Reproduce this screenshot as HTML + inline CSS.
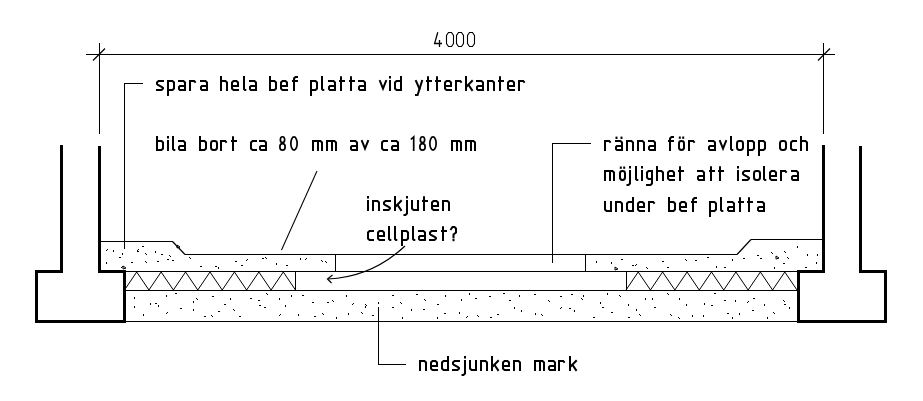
<!DOCTYPE html>
<html><head><meta charset="utf-8"><style>
html,body{margin:0;padding:0;background:#fff;width:923px;height:401px;overflow:hidden}
svg{display:block}
text{font-family:"Liberation Sans",sans-serif;fill:#000}
</style></head><body>
<svg width="923" height="401" viewBox="0 0 923 401">
<g stroke="#000" fill="#000">
<line x1="86" y1="54.5" x2="835" y2="54.5" stroke-width="1" shape-rendering="crispEdges"/>
<line x1="99.5" y1="43" x2="99.5" y2="134" stroke-width="1" shape-rendering="crispEdges"/>
<line x1="823.5" y1="43" x2="823.5" y2="134" stroke-width="1" shape-rendering="crispEdges"/>
<line x1="93" y1="60.5" x2="105" y2="48.5" stroke-width="1.25"/>
<line x1="818" y1="60.5" x2="830" y2="48.5" stroke-width="1.25"/>
<polyline points="61.5,145 61.5,271.5 36.5,271.5 36.5,321.5 124.5,321.5 124.5,271.5 99.5,271.5 99.5,146" fill="none" stroke-width="3" stroke-linejoin="miter" shape-rendering="crispEdges"/>
<polyline points="823.5,145 823.5,271.5 798.5,271.5 798.5,321.5 885.5,321.5 885.5,271.5 860.5,271.5 860.5,146" fill="none" stroke-width="3" stroke-linejoin="miter" shape-rendering="crispEdges"/>
<line x1="100" y1="241.5" x2="173" y2="241.5" stroke-width="1" shape-rendering="crispEdges"/>
<line x1="172.5" y1="241.5" x2="185" y2="254.5" stroke-width="1.2"/>
<line x1="185" y1="254.5" x2="737" y2="254.5" stroke-width="1" shape-rendering="crispEdges"/>
<line x1="737" y1="254.5" x2="751" y2="239.5" stroke-width="1.2"/>
<line x1="751" y1="239.5" x2="823" y2="239.5" stroke-width="1" shape-rendering="crispEdges"/>
<line x1="125" y1="271.5" x2="798" y2="271.5" stroke-width="1" shape-rendering="crispEdges"/>
<line x1="335.5" y1="254" x2="335.5" y2="271" stroke-width="1" shape-rendering="crispEdges"/>
<line x1="585.5" y1="254" x2="585.5" y2="271" stroke-width="1" shape-rendering="crispEdges"/>
<line x1="125" y1="290.5" x2="798" y2="290.5" stroke-width="1" shape-rendering="crispEdges"/>
<line x1="295.5" y1="271" x2="295.5" y2="291" stroke-width="1" shape-rendering="crispEdges"/>
<line x1="626.5" y1="271" x2="626.5" y2="291" stroke-width="1" shape-rendering="crispEdges"/>
<line x1="125" y1="321.5" x2="798" y2="321.5" stroke-width="1" shape-rendering="crispEdges"/>
<polyline points="124.50,290 136.71,272 148.93,290 161.14,272 173.36,290 185.57,272 197.79,290 210.00,272 222.21,290 234.43,272 246.64,290 258.86,272 271.07,290 283.29,272 295.50,290" fill="none" stroke-width="1.0"/>
<polyline points="626.00,290 638.21,272 650.43,290 662.64,272 674.86,290 687.07,272 699.29,290 711.50,272 723.71,290 735.93,272 748.14,290 760.36,272 772.57,290 784.79,272 797.00,290" fill="none" stroke-width="1.0"/>
<line x1="124" y1="83.5" x2="143" y2="83.5" stroke-width="1" shape-rendering="crispEdges"/>
<line x1="124.5" y1="83" x2="124.5" y2="249" stroke-width="1" shape-rendering="crispEdges"/>
<line x1="317" y1="171" x2="281.5" y2="250" stroke-width="1.05"/>
<line x1="552" y1="143.5" x2="591" y2="143.5" stroke-width="1" shape-rendering="crispEdges"/>
<line x1="552.5" y1="143" x2="552.5" y2="263" stroke-width="1" shape-rendering="crispEdges"/>
<line x1="378.5" y1="307" x2="378.5" y2="365" stroke-width="1" shape-rendering="crispEdges"/>
<line x1="378" y1="364.5" x2="406" y2="364.5" stroke-width="1" shape-rendering="crispEdges"/>
<path d="M405,246 Q372,277 328,279" fill="none" stroke-width="1.2"/>
<path d="M332.5,275 L327.5,279 L331.5,283" fill="none" stroke-width="1.2"/>
<g stroke="none" shape-rendering="crispEdges"><rect x="106" y="250" width="1" height="1"/><rect x="107" y="249" width="1" height="1"/><rect x="106" y="262" width="1" height="2"/><rect x="113" y="250" width="1" height="2"/><rect x="119" y="257" width="2" height="1"/><rect x="122" y="253" width="1" height="2"/><rect x="121" y="267" width="1" height="1"/><rect x="122" y="266" width="1" height="1"/><rect x="137" y="251" width="2" height="1"/><rect x="131" y="262" width="2" height="1"/><rect x="142" y="246" width="2" height="1"/><rect x="145" y="261" width="1" height="1"/><rect x="146" y="262" width="1" height="1"/><rect x="155" y="251" width="1" height="2"/><rect x="157" y="261" width="2" height="1"/><rect x="169" y="255" width="1" height="1"/><rect x="170" y="256" width="1" height="1"/><rect x="167" y="259" width="2" height="1"/><rect x="189" y="257" width="1" height="1"/><rect x="190" y="258" width="1" height="1"/><rect x="200" y="266" width="2" height="1"/><rect x="215" y="266" width="2" height="1"/><rect x="218" y="267" width="1" height="2"/><rect x="235" y="261" width="2" height="1"/><rect x="241" y="265" width="2" height="1"/><rect x="246" y="260" width="1" height="1"/><rect x="247" y="259" width="1" height="1"/><rect x="262" y="258" width="2" height="1"/><rect x="265" y="257" width="1" height="1"/><rect x="266" y="258" width="1" height="1"/><rect x="276" y="263" width="1" height="2"/><rect x="286" y="265" width="2" height="1"/><rect x="300" y="258" width="1" height="2"/><rect x="305" y="259" width="1" height="1"/><rect x="306" y="258" width="1" height="1"/><rect x="321" y="260" width="1" height="1"/><rect x="322" y="261" width="1" height="1"/><rect x="325" y="261" width="1" height="1"/><rect x="326" y="262" width="1" height="1"/><rect x="137" y="250" width="1" height="1"/><rect x="138" y="249" width="1" height="1"/><rect x="145" y="253" width="1" height="1"/><rect x="146" y="254" width="1" height="1"/><rect x="161" y="254" width="2" height="1"/><rect x="172" y="260" width="2" height="1"/><rect x="596" y="261" width="1" height="2"/><rect x="611" y="262" width="1" height="2"/><rect x="621" y="259" width="2" height="1"/><rect x="632" y="265" width="2" height="1"/><rect x="635" y="265" width="1" height="1"/><rect x="636" y="264" width="1" height="1"/><rect x="646" y="267" width="1" height="1"/><rect x="647" y="268" width="1" height="1"/><rect x="662" y="261" width="2" height="1"/><rect x="667" y="267" width="2" height="1"/><rect x="685" y="259" width="1" height="1"/><rect x="686" y="260" width="1" height="1"/><rect x="695" y="260" width="2" height="1"/><rect x="707" y="257" width="2" height="1"/><rect x="716" y="266" width="1" height="2"/><rect x="724" y="267" width="2" height="1"/><rect x="732" y="259" width="1" height="2"/><rect x="743" y="258" width="2" height="1"/><rect x="760" y="258" width="2" height="1"/><rect x="774" y="267" width="1" height="2"/><rect x="783" y="263" width="2" height="1"/><rect x="787" y="257" width="1" height="1"/><rect x="788" y="258" width="1" height="1"/><rect x="805" y="267" width="2" height="1"/><rect x="816" y="262" width="1" height="2"/><rect x="757" y="255" width="2" height="1"/><rect x="771" y="252" width="1" height="1"/><rect x="772" y="253" width="1" height="1"/><rect x="784" y="251" width="1" height="1"/><rect x="785" y="252" width="1" height="1"/><rect x="797" y="246" width="1" height="2"/><rect x="807" y="254" width="1" height="2"/><rect x="817" y="254" width="1" height="2"/><rect x="134" y="297" width="1" height="2"/><rect x="134" y="306" width="1" height="2"/><rect x="150" y="303" width="1" height="2"/><rect x="143" y="314" width="1" height="2"/><rect x="155" y="303" width="2" height="1"/><rect x="158" y="305" width="1" height="2"/><rect x="166" y="295" width="1" height="2"/><rect x="166" y="313" width="1" height="1"/><rect x="167" y="312" width="1" height="1"/><rect x="175" y="293" width="2" height="1"/><rect x="180" y="308" width="2" height="1"/><rect x="193" y="301" width="1" height="2"/><rect x="193" y="309" width="1" height="2"/><rect x="196" y="298" width="1" height="1"/><rect x="197" y="299" width="1" height="1"/><rect x="204" y="316" width="2" height="1"/><rect x="212" y="296" width="2" height="1"/><rect x="211" y="315" width="1" height="1"/><rect x="212" y="316" width="1" height="1"/><rect x="224" y="304" width="2" height="1"/><rect x="218" y="311" width="2" height="1"/><rect x="230" y="298" width="1" height="2"/><rect x="233" y="309" width="1" height="1"/><rect x="234" y="310" width="1" height="1"/><rect x="250" y="298" width="2" height="1"/><rect x="239" y="316" width="2" height="1"/><rect x="258" y="300" width="2" height="1"/><rect x="259" y="305" width="2" height="1"/><rect x="266" y="293" width="1" height="1"/><rect x="267" y="294" width="1" height="1"/><rect x="264" y="307" width="2" height="1"/><rect x="279" y="298" width="1" height="2"/><rect x="279" y="315" width="1" height="1"/><rect x="280" y="314" width="1" height="1"/><rect x="291" y="295" width="1" height="2"/><rect x="285" y="305" width="1" height="2"/><rect x="302" y="295" width="2" height="1"/><rect x="298" y="314" width="1" height="2"/><rect x="312" y="302" width="2" height="1"/><rect x="314" y="316" width="2" height="1"/><rect x="327" y="302" width="2" height="1"/><rect x="322" y="313" width="1" height="1"/><rect x="323" y="314" width="1" height="1"/><rect x="332" y="300" width="1" height="1"/><rect x="333" y="301" width="1" height="1"/><rect x="336" y="317" width="1" height="2"/><rect x="346" y="295" width="1" height="2"/><rect x="348" y="313" width="1" height="2"/><rect x="352" y="304" width="1" height="1"/><rect x="353" y="303" width="1" height="1"/><rect x="361" y="312" width="1" height="1"/><rect x="362" y="313" width="1" height="1"/><rect x="365" y="304" width="1" height="1"/><rect x="366" y="305" width="1" height="1"/><rect x="365" y="306" width="1" height="2"/><rect x="378" y="302" width="1" height="2"/><rect x="372" y="315" width="2" height="1"/><rect x="392" y="295" width="2" height="1"/><rect x="392" y="307" width="2" height="1"/><rect x="400" y="302" width="1" height="1"/><rect x="401" y="303" width="1" height="1"/><rect x="402" y="317" width="1" height="2"/><rect x="416" y="294" width="2" height="1"/><rect x="411" y="309" width="1" height="2"/><rect x="424" y="299" width="1" height="1"/><rect x="425" y="300" width="1" height="1"/><rect x="423" y="309" width="2" height="1"/><rect x="437" y="304" width="2" height="1"/><rect x="437" y="317" width="1" height="2"/><rect x="445" y="295" width="1" height="2"/><rect x="444" y="313" width="2" height="1"/><rect x="461" y="299" width="1" height="2"/><rect x="459" y="312" width="1" height="2"/><rect x="469" y="293" width="1" height="2"/><rect x="466" y="317" width="1" height="1"/><rect x="467" y="316" width="1" height="1"/><rect x="475" y="298" width="2" height="1"/><rect x="477" y="315" width="1" height="1"/><rect x="478" y="316" width="1" height="1"/><rect x="489" y="296" width="2" height="1"/><rect x="490" y="317" width="2" height="1"/><rect x="503" y="293" width="2" height="1"/><rect x="497" y="314" width="2" height="1"/><rect x="509" y="300" width="2" height="1"/><rect x="514" y="307" width="1" height="2"/><rect x="519" y="295" width="1" height="2"/><rect x="521" y="310" width="1" height="2"/><rect x="534" y="294" width="2" height="1"/><rect x="535" y="313" width="1" height="2"/><rect x="548" y="300" width="1" height="1"/><rect x="549" y="301" width="1" height="1"/><rect x="541" y="314" width="1" height="1"/><rect x="542" y="315" width="1" height="1"/><rect x="560" y="296" width="2" height="1"/><rect x="560" y="308" width="1" height="1"/><rect x="561" y="307" width="1" height="1"/><rect x="571" y="294" width="2" height="1"/><rect x="569" y="308" width="2" height="1"/><rect x="581" y="298" width="1" height="1"/><rect x="582" y="299" width="1" height="1"/><rect x="574" y="310" width="1" height="2"/><rect x="583" y="295" width="1" height="2"/><rect x="593" y="317" width="2" height="1"/><rect x="600" y="302" width="1" height="2"/><rect x="602" y="307" width="2" height="1"/><rect x="607" y="293" width="1" height="2"/><rect x="611" y="312" width="2" height="1"/><rect x="619" y="295" width="1" height="1"/><rect x="620" y="296" width="1" height="1"/><rect x="628" y="317" width="2" height="1"/><rect x="628" y="304" width="1" height="2"/><rect x="636" y="309" width="1" height="2"/><rect x="645" y="298" width="1" height="2"/><rect x="639" y="314" width="1" height="1"/><rect x="640" y="315" width="1" height="1"/><rect x="652" y="298" width="1" height="2"/><rect x="654" y="307" width="2" height="1"/><rect x="667" y="293" width="1" height="1"/><rect x="668" y="294" width="1" height="1"/><rect x="670" y="314" width="1" height="1"/><rect x="671" y="315" width="1" height="1"/><rect x="679" y="298" width="1" height="2"/><rect x="678" y="317" width="1" height="1"/><rect x="679" y="318" width="1" height="1"/><rect x="686" y="304" width="1" height="2"/><rect x="692" y="315" width="1" height="2"/><rect x="704" y="303" width="1" height="2"/><rect x="703" y="315" width="1" height="2"/><rect x="714" y="293" width="2" height="1"/><rect x="711" y="305" width="2" height="1"/><rect x="724" y="300" width="2" height="1"/><rect x="727" y="313" width="2" height="1"/><rect x="735" y="300" width="1" height="2"/><rect x="732" y="317" width="1" height="2"/><rect x="747" y="302" width="1" height="1"/><rect x="748" y="301" width="1" height="1"/><rect x="739" y="313" width="1" height="2"/><rect x="753" y="298" width="2" height="1"/><rect x="752" y="310" width="2" height="1"/><rect x="764" y="304" width="1" height="2"/><rect x="767" y="317" width="1" height="2"/><rect x="783" y="300" width="1" height="1"/><rect x="784" y="301" width="1" height="1"/><rect x="773" y="312" width="1" height="1"/><rect x="774" y="313" width="1" height="1"/><rect x="784" y="304" width="2" height="1"/><rect x="789" y="307" width="1" height="2"/></g>
<path d="M123,266 L126,268 L123,269 Z" fill="none" stroke-width="1"/>
<path d="M177,245 L180,247 L177,248 Z" fill="none" stroke-width="1"/>
<path d="M776,256 L779,258 L776,259 Z" fill="none" stroke-width="1"/>
<path d="M615,267 L618,269 L615,270 Z" fill="none" stroke-width="1"/>
</g>
<g fill="none" stroke="#000">
<g stroke-width="1.1" stroke-linejoin="miter"><path d="M437.8,32.2 L434.6,43.5 L442,43.5 M439.5,40 L439.5,47" stroke-width="1.3"/><path d="M446.5,35.5 L446.5,43.5 L448.5,46.5 L451.5,46.5 L453.5,43.5 L453.5,35.5 L451.5,32.5 L448.5,32.5 Z"/><path d="M456.5,35.5 L456.5,43.5 L458.5,46.5 L461.5,46.5 L463.5,43.5 L463.5,35.5 L461.5,32.5 L458.5,32.5 Z"/><path d="M467.5,35.5 L467.5,43.5 L469.5,46.5 L472.5,46.5 L474.5,43.5 L474.5,35.5 L472.5,32.5 L469.5,32.5 Z"/></g>
<g stroke-width="2" stroke-linecap="square" stroke-linejoin="miter"><path transform="translate(156,91)" d="M7.00,-10.00 L2.50,-10.00 L1.00,-8.50 L1.00,-7.00 L2.00,-6.00 L6.00,-4.00 L7.00,-3.00 L7.00,-2.50 L5.50,-1.00 L1.00,-1.00"/><path transform="translate(167,91)" d="M1.00,4.00 L1.00,-10.00 L5.50,-10.00 L7.00,-8.50 L7.00,-2.50 L5.50,-1.00 L1.00,-1.00"/><path transform="translate(178,91)" d="M1.00,-10.00 L5.50,-10.00 L7.00,-8.50 L7.00,-1.00"/><path transform="translate(178,91)" d="M7.00,-5.00 L2.00,-5.00 L1.00,-4.00 L1.00,-2.00 L2.00,-1.00 L7.00,-1.00"/><path transform="translate(189,91)" d="M1.00,-10.00 L1.00,-1.00"/><path transform="translate(189,91)" d="M1.00,-10.00 L5.20,-10.00 L6.00,-9.10"/><path transform="translate(200,91)" d="M1.00,-10.00 L5.50,-10.00 L7.00,-8.50 L7.00,-1.00"/><path transform="translate(200,91)" d="M7.00,-5.00 L2.00,-5.00 L1.00,-4.00 L1.00,-2.00 L2.00,-1.00 L7.00,-1.00"/></g>
<g stroke-width="2" stroke-linecap="square" stroke-linejoin="miter"><path transform="translate(220,91)" d="M1.00,-14.00 L1.00,-1.00"/><path transform="translate(220,91)" d="M1.00,-10.00 L5.50,-10.00 L7.00,-8.50 L7.00,-1.00"/><path transform="translate(231,91)" d="M1.00,-5.00 L7.00,-5.00 L7.00,-8.50 L5.50,-10.00 L2.50,-10.00 L1.00,-8.50 L1.00,-2.50 L2.50,-1.00 L7.00,-1.00"/><path transform="translate(243,91)" d="M1.00,-14.00 L1.00,-2.00 L2.00,-1.00 L2.30,-1.00"/><path transform="translate(249,91)" d="M1.00,-10.00 L5.50,-10.00 L7.00,-8.50 L7.00,-1.00"/><path transform="translate(249,91)" d="M7.00,-5.00 L2.00,-5.00 L1.00,-4.00 L1.00,-2.00 L2.00,-1.00 L7.00,-1.00"/></g>
<g stroke-width="2" stroke-linecap="square" stroke-linejoin="miter"><path transform="translate(269,91)" d="M1.00,-14.00 L1.00,-1.00 L5.50,-1.00 L7.00,-2.50 L7.00,-8.50 L5.50,-10.00 L1.00,-10.00"/><path transform="translate(280,91)" d="M1.00,-5.00 L7.00,-5.00 L7.00,-8.50 L5.50,-10.00 L2.50,-10.00 L1.00,-8.50 L1.00,-2.50 L2.50,-1.00 L7.00,-1.00"/><path transform="translate(292,91)" d="M5.00,-14.00 L3.50,-14.00 L2.00,-12.50 L2.00,-1.00"/><path transform="translate(292,91)" d="M1.00,-10.00 L5.00,-10.00"/></g>
<g stroke-width="2" stroke-linecap="square" stroke-linejoin="miter"><path transform="translate(310,91)" d="M1.00,4.00 L1.00,-10.00 L5.50,-10.00 L7.00,-8.50 L7.00,-2.50 L5.50,-1.00 L1.00,-1.00"/><path transform="translate(321,91)" d="M1.00,-14.00 L1.00,-2.00 L2.00,-1.00 L2.30,-1.00"/><path transform="translate(328,91)" d="M1.00,-10.00 L5.50,-10.00 L7.00,-8.50 L7.00,-1.00"/><path transform="translate(328,91)" d="M7.00,-5.00 L2.00,-5.00 L1.00,-4.00 L1.00,-2.00 L2.00,-1.00 L7.00,-1.00"/><path transform="translate(339,91)" d="M2.00,-13.70 L2.00,-1.00"/><path transform="translate(339,91)" d="M1.00,-10.00 L5.00,-10.00"/><path transform="translate(349,91)" d="M2.00,-13.70 L2.00,-1.00"/><path transform="translate(349,91)" d="M1.00,-10.00 L5.00,-10.00"/><path transform="translate(358,91)" d="M1.00,-10.00 L5.50,-10.00 L7.00,-8.50 L7.00,-1.00"/><path transform="translate(358,91)" d="M7.00,-5.00 L2.00,-5.00 L1.00,-4.00 L1.00,-2.00 L2.00,-1.00 L7.00,-1.00"/></g>
<g stroke-width="2" stroke-linecap="square" stroke-linejoin="miter"><path transform="translate(379,91)" d="M1.00,-10.00 L4.00,-2.40 L7.00,-10.00"/><path transform="translate(389,91)" d="M1.00,-10.00 L1.00,-1.00"/><path transform="translate(389,91)" d="M1.00,-14.00 L1.00,-13.60"/><path transform="translate(394,91)" d="M7.00,-14.00 L7.00,-1.00 L2.50,-1.00 L1.00,-2.50 L1.00,-8.50 L2.50,-10.00 L7.00,-10.00"/></g>
<g stroke-width="2" stroke-linecap="square" stroke-linejoin="miter"><path transform="translate(415,91)" d="M1.00,-10.00 L4.40,-2.20"/><path transform="translate(415,91)" d="M7.00,-10.00 L2.60,4.00 L1.00,4.00"/><path transform="translate(426,91)" d="M2.00,-13.70 L2.00,-1.00"/><path transform="translate(426,91)" d="M1.00,-10.00 L5.00,-10.00"/><path transform="translate(435,91)" d="M2.00,-13.70 L2.00,-1.00"/><path transform="translate(435,91)" d="M1.00,-10.00 L5.00,-10.00"/><path transform="translate(444,91)" d="M1.00,-5.00 L7.00,-5.00 L7.00,-8.50 L5.50,-10.00 L2.50,-10.00 L1.00,-8.50 L1.00,-2.50 L2.50,-1.00 L7.00,-1.00"/><path transform="translate(455,91)" d="M1.00,-10.00 L1.00,-1.00"/><path transform="translate(455,91)" d="M1.00,-10.00 L5.20,-10.00 L6.00,-9.10"/><path transform="translate(465,91)" d="M1.00,-14.00 L1.00,-1.00"/><path transform="translate(465,91)" d="M7.00,-10.00 L1.50,-4.30"/><path transform="translate(465,91)" d="M3.60,-6.00 L7.00,-1.00"/><path transform="translate(476,91)" d="M1.00,-10.00 L5.50,-10.00 L7.00,-8.50 L7.00,-1.00"/><path transform="translate(476,91)" d="M7.00,-5.00 L2.00,-5.00 L1.00,-4.00 L1.00,-2.00 L2.00,-1.00 L7.00,-1.00"/><path transform="translate(487,91)" d="M1.00,-10.00 L1.00,-1.00"/><path transform="translate(487,91)" d="M1.00,-10.00 L5.50,-10.00 L7.00,-8.50 L7.00,-1.00"/><path transform="translate(498,91)" d="M2.00,-13.70 L2.00,-1.00"/><path transform="translate(498,91)" d="M1.00,-10.00 L5.00,-10.00"/><path transform="translate(507,91)" d="M1.00,-5.00 L7.00,-5.00 L7.00,-8.50 L5.50,-10.00 L2.50,-10.00 L1.00,-8.50 L1.00,-2.50 L2.50,-1.00 L7.00,-1.00"/><path transform="translate(518,91)" d="M1.00,-10.00 L1.00,-1.00"/><path transform="translate(518,91)" d="M1.00,-10.00 L5.20,-10.00 L6.00,-9.10"/></g>
<g stroke-width="2" stroke-linecap="square" stroke-linejoin="miter"><path transform="translate(156,151)" d="M1.00,-14.00 L1.00,-1.00 L5.50,-1.00 L7.00,-2.50 L7.00,-8.50 L5.50,-10.00 L1.00,-10.00"/><path transform="translate(167,151)" d="M1.00,-10.00 L1.00,-1.00"/><path transform="translate(167,151)" d="M1.00,-14.00 L1.00,-13.60"/><path transform="translate(172,151)" d="M1.00,-14.00 L1.00,-2.00 L2.00,-1.00 L2.30,-1.00"/><path transform="translate(178,151)" d="M1.00,-10.00 L5.50,-10.00 L7.00,-8.50 L7.00,-1.00"/><path transform="translate(178,151)" d="M7.00,-5.00 L2.00,-5.00 L1.00,-4.00 L1.00,-2.00 L2.00,-1.00 L7.00,-1.00"/></g>
<g stroke-width="2" stroke-linecap="square" stroke-linejoin="miter"><path transform="translate(199,151)" d="M1.00,-14.00 L1.00,-1.00 L5.50,-1.00 L7.00,-2.50 L7.00,-8.50 L5.50,-10.00 L1.00,-10.00"/><path transform="translate(210,151)" d="M1.00,-7.60 L1.00,-3.40 Q1.00,-1.00 3.40,-1.00 L4.60,-1.00 Q7.00,-1.00 7.00,-3.40 L7.00,-7.60 Q7.00,-10.00 4.60,-10.00 L3.40,-10.00 Q1.00,-10.00 1.00,-7.60 Z"/><path transform="translate(220,151)" d="M1.00,-10.00 L1.00,-1.00"/><path transform="translate(220,151)" d="M1.00,-10.00 L5.20,-10.00 L6.00,-9.10"/><path transform="translate(231,151)" d="M2.00,-13.70 L2.00,-1.00"/><path transform="translate(231,151)" d="M1.00,-10.00 L5.00,-10.00"/></g>
<g stroke-width="2" stroke-linecap="square" stroke-linejoin="miter"><path transform="translate(250,151)" d="M6.00,-10.00 L2.50,-10.00 L1.00,-8.50 L1.00,-2.50 L2.50,-1.00 L6.00,-1.00"/><path transform="translate(259,151)" d="M1.00,-10.00 L5.50,-10.00 L7.00,-8.50 L7.00,-1.00"/><path transform="translate(259,151)" d="M7.00,-5.00 L2.00,-5.00 L1.00,-4.00 L1.00,-2.00 L2.00,-1.00 L7.00,-1.00"/></g>
<g stroke-width="1.7" stroke-linecap="butt"><ellipse cx="282.50" cy="139.70" rx="2.15" ry="2.95"/><ellipse cx="282.50" cy="146.90" rx="2.65" ry="3.25"/><ellipse cx="294.00" cy="143.50" rx="3.15" ry="6.65"/></g>
<g stroke-width="2" stroke-linecap="square" stroke-linejoin="miter"><path transform="translate(312,151)" d="M1.00,-10.00 L1.00,-1.00"/><path transform="translate(312,151)" d="M1.00,-10.00 L8.50,-10.00 L10.00,-8.50 L10.00,-1.00"/><path transform="translate(312,151)" d="M6.00,-10.00 L6.00,-1.00"/><path transform="translate(326,151)" d="M1.00,-10.00 L1.00,-1.00"/><path transform="translate(326,151)" d="M1.00,-10.00 L8.50,-10.00 L10.00,-8.50 L10.00,-1.00"/><path transform="translate(326,151)" d="M6.00,-10.00 L6.00,-1.00"/></g>
<g stroke-width="2" stroke-linecap="square" stroke-linejoin="miter"><path transform="translate(350,151)" d="M1.00,-10.00 L5.50,-10.00 L7.00,-8.50 L7.00,-1.00"/><path transform="translate(350,151)" d="M7.00,-5.00 L2.00,-5.00 L1.00,-4.00 L1.00,-2.00 L2.00,-1.00 L7.00,-1.00"/><path transform="translate(361,151)" d="M1.00,-10.00 L4.00,-2.40 L7.00,-10.00"/></g>
<g stroke-width="2" stroke-linecap="square" stroke-linejoin="miter"><path transform="translate(381,151)" d="M6.00,-10.00 L2.50,-10.00 L1.00,-8.50 L1.00,-2.50 L2.50,-1.00 L6.00,-1.00"/><path transform="translate(391,151)" d="M1.00,-10.00 L5.50,-10.00 L7.00,-8.50 L7.00,-1.00"/><path transform="translate(391,151)" d="M7.00,-5.00 L2.00,-5.00 L1.00,-4.00 L1.00,-2.00 L2.00,-1.00 L7.00,-1.00"/></g>
<g stroke-width="1.7" stroke-linecap="butt"><path transform="translate(410,151)" d="M0.85,-11.50 L3.70,-14.15 L3.70,0.00"/><ellipse cx="422.50" cy="139.70" rx="2.15" ry="2.95"/><ellipse cx="422.50" cy="146.90" rx="2.65" ry="3.25"/><ellipse cx="433.00" cy="143.50" rx="3.15" ry="6.65"/></g>
<g stroke-width="2" stroke-linecap="square" stroke-linejoin="miter"><path transform="translate(451,151)" d="M1.00,-10.00 L1.00,-1.00"/><path transform="translate(451,151)" d="M1.00,-10.00 L8.50,-10.00 L10.00,-8.50 L10.00,-1.00"/><path transform="translate(451,151)" d="M6.00,-10.00 L6.00,-1.00"/><path transform="translate(465,151)" d="M1.00,-10.00 L1.00,-1.00"/><path transform="translate(465,151)" d="M1.00,-10.00 L8.50,-10.00 L10.00,-8.50 L10.00,-1.00"/><path transform="translate(465,151)" d="M6.00,-10.00 L6.00,-1.00"/></g>
<g stroke-width="2" stroke-linecap="square" stroke-linejoin="miter"><path transform="translate(604,151)" d="M1.00,-10.00 L1.00,-1.00"/><path transform="translate(604,151)" d="M1.00,-10.00 L5.20,-10.00 L6.00,-9.10"/><path transform="translate(615,151)" d="M1.00,-10.00 L5.50,-10.00 L7.00,-8.50 L7.00,-1.00"/><path transform="translate(615,151)" d="M7.00,-5.00 L2.00,-5.00 L1.00,-4.00 L1.00,-2.00 L2.00,-1.00 L7.00,-1.00"/><path transform="translate(615,151)" d="M1.50,-13.40 L1.50,-13.00"/><path transform="translate(615,151)" d="M6.50,-13.40 L6.50,-13.00"/><path transform="translate(626,151)" d="M1.00,-10.00 L1.00,-1.00"/><path transform="translate(626,151)" d="M1.00,-10.00 L5.50,-10.00 L7.00,-8.50 L7.00,-1.00"/><path transform="translate(637,151)" d="M1.00,-10.00 L1.00,-1.00"/><path transform="translate(637,151)" d="M1.00,-10.00 L5.50,-10.00 L7.00,-8.50 L7.00,-1.00"/><path transform="translate(648,151)" d="M1.00,-10.00 L5.50,-10.00 L7.00,-8.50 L7.00,-1.00"/><path transform="translate(648,151)" d="M7.00,-5.00 L2.00,-5.00 L1.00,-4.00 L1.00,-2.00 L2.00,-1.00 L7.00,-1.00"/></g>
<g stroke-width="2" stroke-linecap="square" stroke-linejoin="miter"><path transform="translate(668,151)" d="M5.00,-14.00 L3.50,-14.00 L2.00,-12.50 L2.00,-1.00"/><path transform="translate(668,151)" d="M1.00,-10.00 L5.00,-10.00"/><path transform="translate(678,151)" d="M1.00,-7.60 L1.00,-3.40 Q1.00,-1.00 3.40,-1.00 L3.60,-1.00 Q6.00,-1.00 6.00,-3.40 L6.00,-7.60 Q6.00,-10.00 3.60,-10.00 L3.40,-10.00 Q1.00,-10.00 1.00,-7.60 Z"/><path transform="translate(678,151)" d="M1.80,-13.50 L1.80,-13.20"/><path transform="translate(678,151)" d="M5.20,-13.50 L5.20,-13.20"/><path transform="translate(688,151)" d="M1.00,-10.00 L1.00,-1.00"/><path transform="translate(688,151)" d="M1.00,-10.00 L5.20,-10.00 L6.00,-9.10"/></g>
<g stroke-width="2" stroke-linecap="square" stroke-linejoin="miter"><path transform="translate(708,151)" d="M1.00,-10.00 L5.50,-10.00 L7.00,-8.50 L7.00,-1.00"/><path transform="translate(708,151)" d="M7.00,-5.00 L2.00,-5.00 L1.00,-4.00 L1.00,-2.00 L2.00,-1.00 L7.00,-1.00"/><path transform="translate(719,151)" d="M1.00,-10.00 L4.00,-2.40 L7.00,-10.00"/><path transform="translate(730,151)" d="M1.00,-14.00 L1.00,-2.00 L2.00,-1.00 L2.30,-1.00"/><path transform="translate(736,151)" d="M1.00,-7.60 L1.00,-3.40 Q1.00,-1.00 3.40,-1.00 L4.60,-1.00 Q7.00,-1.00 7.00,-3.40 L7.00,-7.60 Q7.00,-10.00 4.60,-10.00 L3.40,-10.00 Q1.00,-10.00 1.00,-7.60 Z"/><path transform="translate(747,151)" d="M1.00,4.00 L1.00,-10.00 L5.50,-10.00 L7.00,-8.50 L7.00,-2.50 L5.50,-1.00 L1.00,-1.00"/><path transform="translate(758,151)" d="M1.00,4.00 L1.00,-10.00 L5.50,-10.00 L7.00,-8.50 L7.00,-2.50 L5.50,-1.00 L1.00,-1.00"/></g>
<g stroke-width="2" stroke-linecap="square" stroke-linejoin="miter"><path transform="translate(779,151)" d="M1.00,-7.60 L1.00,-3.40 Q1.00,-1.00 3.40,-1.00 L4.60,-1.00 Q7.00,-1.00 7.00,-3.40 L7.00,-7.60 Q7.00,-10.00 4.60,-10.00 L3.40,-10.00 Q1.00,-10.00 1.00,-7.60 Z"/><path transform="translate(790,151)" d="M6.00,-10.00 L2.50,-10.00 L1.00,-8.50 L1.00,-2.50 L2.50,-1.00 L6.00,-1.00"/><path transform="translate(800,151)" d="M1.00,-14.00 L1.00,-1.00"/><path transform="translate(800,151)" d="M1.00,-10.00 L5.50,-10.00 L7.00,-8.50 L7.00,-1.00"/></g>
<g stroke-width="2" stroke-linecap="square" stroke-linejoin="miter"><path transform="translate(604,181)" d="M1.00,-10.00 L1.00,-1.00"/><path transform="translate(604,181)" d="M1.00,-10.00 L8.50,-10.00 L10.00,-8.50 L10.00,-1.00"/><path transform="translate(604,181)" d="M6.00,-10.00 L6.00,-1.00"/><path transform="translate(619,181)" d="M1.00,-7.60 L1.00,-3.40 Q1.00,-1.00 3.40,-1.00 L3.60,-1.00 Q6.00,-1.00 6.00,-3.40 L6.00,-7.60 Q6.00,-10.00 3.60,-10.00 L3.40,-10.00 Q1.00,-10.00 1.00,-7.60 Z"/><path transform="translate(619,181)" d="M1.80,-13.50 L1.80,-13.20"/><path transform="translate(619,181)" d="M5.20,-13.50 L5.20,-13.20"/><path transform="translate(627,181)" d="M3.00,-10.00 L3.00,2.50 L1.50,4.00 L0.50,4.00"/><path transform="translate(627,181)" d="M3.00,-14.00 L3.00,-13.60"/><path transform="translate(635,181)" d="M1.00,-14.00 L1.00,-2.00 L2.00,-1.00 L2.30,-1.00"/><path transform="translate(641,181)" d="M1.00,-10.00 L1.00,-1.00"/><path transform="translate(641,181)" d="M1.00,-14.00 L1.00,-13.60"/><path transform="translate(646,181)" d="M6.00,-10.00 L2.50,-10.00 L1.00,-8.50 L1.00,-3.50 L2.50,-2.00 L6.00,-2.00"/><path transform="translate(646,181)" d="M6.00,-10.00 L6.00,2.50 L4.50,4.00 L1.00,4.00"/><path transform="translate(656,181)" d="M1.00,-14.00 L1.00,-1.00"/><path transform="translate(656,181)" d="M1.00,-10.00 L5.50,-10.00 L7.00,-8.50 L7.00,-1.00"/><path transform="translate(667,181)" d="M1.00,-5.00 L7.00,-5.00 L7.00,-8.50 L5.50,-10.00 L2.50,-10.00 L1.00,-8.50 L1.00,-2.50 L2.50,-1.00 L7.00,-1.00"/><path transform="translate(678,181)" d="M2.00,-13.70 L2.00,-1.00"/><path transform="translate(678,181)" d="M1.00,-10.00 L5.00,-10.00"/></g>
<g stroke-width="2" stroke-linecap="square" stroke-linejoin="miter"><path transform="translate(697,181)" d="M1.00,-10.00 L5.50,-10.00 L7.00,-8.50 L7.00,-1.00"/><path transform="translate(697,181)" d="M7.00,-5.00 L2.00,-5.00 L1.00,-4.00 L1.00,-2.00 L2.00,-1.00 L7.00,-1.00"/><path transform="translate(709,181)" d="M2.00,-13.70 L2.00,-1.00"/><path transform="translate(709,181)" d="M1.00,-10.00 L5.00,-10.00"/><path transform="translate(718,181)" d="M2.00,-13.70 L2.00,-1.00"/><path transform="translate(718,181)" d="M1.00,-10.00 L5.00,-10.00"/></g>
<g stroke-width="2" stroke-linecap="square" stroke-linejoin="miter"><path transform="translate(737,181)" d="M1.00,-10.00 L1.00,-1.00"/><path transform="translate(737,181)" d="M1.00,-14.00 L1.00,-13.60"/><path transform="translate(742,181)" d="M7.00,-10.00 L2.50,-10.00 L1.00,-8.50 L1.00,-7.00 L2.00,-6.00 L6.00,-4.00 L7.00,-3.00 L7.00,-2.50 L5.50,-1.00 L1.00,-1.00"/><path transform="translate(753,181)" d="M1.00,-7.60 L1.00,-3.40 Q1.00,-1.00 3.40,-1.00 L4.60,-1.00 Q7.00,-1.00 7.00,-3.40 L7.00,-7.60 Q7.00,-10.00 4.60,-10.00 L3.40,-10.00 Q1.00,-10.00 1.00,-7.60 Z"/><path transform="translate(763,181)" d="M1.00,-14.00 L1.00,-2.00 L2.00,-1.00 L2.30,-1.00"/><path transform="translate(769,181)" d="M1.00,-5.00 L7.00,-5.00 L7.00,-8.50 L5.50,-10.00 L2.50,-10.00 L1.00,-8.50 L1.00,-2.50 L2.50,-1.00 L7.00,-1.00"/><path transform="translate(780,181)" d="M1.00,-10.00 L1.00,-1.00"/><path transform="translate(780,181)" d="M1.00,-10.00 L5.20,-10.00 L6.00,-9.10"/><path transform="translate(791,181)" d="M1.00,-10.00 L5.50,-10.00 L7.00,-8.50 L7.00,-1.00"/><path transform="translate(791,181)" d="M7.00,-5.00 L2.00,-5.00 L1.00,-4.00 L1.00,-2.00 L2.00,-1.00 L7.00,-1.00"/></g>
<g stroke-width="2" stroke-linecap="square" stroke-linejoin="miter"><path transform="translate(604,212)" d="M1.00,-10.00 L1.00,-2.50 L2.50,-1.00 L7.00,-1.00"/><path transform="translate(604,212)" d="M7.00,-10.00 L7.00,-1.00"/><path transform="translate(615,212)" d="M1.00,-10.00 L1.00,-1.00"/><path transform="translate(615,212)" d="M1.00,-10.00 L5.50,-10.00 L7.00,-8.50 L7.00,-1.00"/><path transform="translate(626,212)" d="M7.00,-14.00 L7.00,-1.00 L2.50,-1.00 L1.00,-2.50 L1.00,-8.50 L2.50,-10.00 L7.00,-10.00"/><path transform="translate(637,212)" d="M1.00,-5.00 L7.00,-5.00 L7.00,-8.50 L5.50,-10.00 L2.50,-10.00 L1.00,-8.50 L1.00,-2.50 L2.50,-1.00 L7.00,-1.00"/><path transform="translate(648,212)" d="M1.00,-10.00 L1.00,-1.00"/><path transform="translate(648,212)" d="M1.00,-10.00 L5.20,-10.00 L6.00,-9.10"/></g>
<g stroke-width="2" stroke-linecap="square" stroke-linejoin="miter"><path transform="translate(668,212)" d="M1.00,-14.00 L1.00,-1.00 L5.50,-1.00 L7.00,-2.50 L7.00,-8.50 L5.50,-10.00 L1.00,-10.00"/><path transform="translate(679,212)" d="M1.00,-5.00 L7.00,-5.00 L7.00,-8.50 L5.50,-10.00 L2.50,-10.00 L1.00,-8.50 L1.00,-2.50 L2.50,-1.00 L7.00,-1.00"/><path transform="translate(691,212)" d="M5.00,-14.00 L3.50,-14.00 L2.00,-12.50 L2.00,-1.00"/><path transform="translate(691,212)" d="M1.00,-10.00 L5.00,-10.00"/></g>
<g stroke-width="2" stroke-linecap="square" stroke-linejoin="miter"><path transform="translate(709,212)" d="M1.00,4.00 L1.00,-10.00 L5.50,-10.00 L7.00,-8.50 L7.00,-2.50 L5.50,-1.00 L1.00,-1.00"/><path transform="translate(720,212)" d="M1.00,-14.00 L1.00,-2.00 L2.00,-1.00 L2.30,-1.00"/><path transform="translate(727,212)" d="M1.00,-10.00 L5.50,-10.00 L7.00,-8.50 L7.00,-1.00"/><path transform="translate(727,212)" d="M7.00,-5.00 L2.00,-5.00 L1.00,-4.00 L1.00,-2.00 L2.00,-1.00 L7.00,-1.00"/><path transform="translate(738,212)" d="M2.00,-13.70 L2.00,-1.00"/><path transform="translate(738,212)" d="M1.00,-10.00 L5.00,-10.00"/><path transform="translate(747,212)" d="M2.00,-13.70 L2.00,-1.00"/><path transform="translate(747,212)" d="M1.00,-10.00 L5.00,-10.00"/><path transform="translate(757,212)" d="M1.00,-10.00 L5.50,-10.00 L7.00,-8.50 L7.00,-1.00"/><path transform="translate(757,212)" d="M7.00,-5.00 L2.00,-5.00 L1.00,-4.00 L1.00,-2.00 L2.00,-1.00 L7.00,-1.00"/></g>
<g stroke-width="2" stroke-linecap="square" stroke-linejoin="miter"><path transform="translate(367,211)" d="M1.00,-10.00 L1.00,-1.00"/><path transform="translate(367,211)" d="M1.00,-14.00 L1.00,-13.60"/><path transform="translate(372,211)" d="M1.00,-10.00 L1.00,-1.00"/><path transform="translate(372,211)" d="M1.00,-10.00 L5.50,-10.00 L7.00,-8.50 L7.00,-1.00"/><path transform="translate(383,211)" d="M7.00,-10.00 L2.50,-10.00 L1.00,-8.50 L1.00,-7.00 L2.00,-6.00 L6.00,-4.00 L7.00,-3.00 L7.00,-2.50 L5.50,-1.00 L1.00,-1.00"/><path transform="translate(394,211)" d="M1.00,-14.00 L1.00,-1.00"/><path transform="translate(394,211)" d="M7.00,-10.00 L1.50,-4.30"/><path transform="translate(394,211)" d="M3.60,-6.00 L7.00,-1.00"/><path transform="translate(404,211)" d="M3.00,-10.00 L3.00,2.50 L1.50,4.00 L0.50,4.00"/><path transform="translate(404,211)" d="M3.00,-14.00 L3.00,-13.60"/><path transform="translate(411,211)" d="M1.00,-10.00 L1.00,-2.50 L2.50,-1.00 L7.00,-1.00"/><path transform="translate(411,211)" d="M7.00,-10.00 L7.00,-1.00"/><path transform="translate(422,211)" d="M2.00,-13.70 L2.00,-1.00"/><path transform="translate(422,211)" d="M1.00,-10.00 L5.00,-10.00"/><path transform="translate(431,211)" d="M1.00,-5.00 L7.00,-5.00 L7.00,-8.50 L5.50,-10.00 L2.50,-10.00 L1.00,-8.50 L1.00,-2.50 L2.50,-1.00 L7.00,-1.00"/><path transform="translate(442,211)" d="M1.00,-10.00 L1.00,-1.00"/><path transform="translate(442,211)" d="M1.00,-10.00 L5.50,-10.00 L7.00,-8.50 L7.00,-1.00"/></g>
<g stroke-width="2" stroke-linecap="square" stroke-linejoin="miter"><path transform="translate(367,241)" d="M6.00,-10.00 L2.50,-10.00 L1.00,-8.50 L1.00,-2.50 L2.50,-1.00 L6.00,-1.00"/><path transform="translate(377,241)" d="M1.00,-5.00 L7.00,-5.00 L7.00,-8.50 L5.50,-10.00 L2.50,-10.00 L1.00,-8.50 L1.00,-2.50 L2.50,-1.00 L7.00,-1.00"/><path transform="translate(388,241)" d="M1.00,-14.00 L1.00,-2.00 L2.00,-1.00 L2.30,-1.00"/><path transform="translate(394,241)" d="M1.00,-14.00 L1.00,-2.00 L2.00,-1.00 L2.30,-1.00"/><path transform="translate(401,241)" d="M1.00,4.00 L1.00,-10.00 L5.50,-10.00 L7.00,-8.50 L7.00,-2.50 L5.50,-1.00 L1.00,-1.00"/><path transform="translate(412,241)" d="M1.00,-14.00 L1.00,-2.00 L2.00,-1.00 L2.30,-1.00"/><path transform="translate(418,241)" d="M1.00,-10.00 L5.50,-10.00 L7.00,-8.50 L7.00,-1.00"/><path transform="translate(418,241)" d="M7.00,-5.00 L2.00,-5.00 L1.00,-4.00 L1.00,-2.00 L2.00,-1.00 L7.00,-1.00"/><path transform="translate(429,241)" d="M7.00,-10.00 L2.50,-10.00 L1.00,-8.50 L1.00,-7.00 L2.00,-6.00 L6.00,-4.00 L7.00,-3.00 L7.00,-2.50 L5.50,-1.00 L1.00,-1.00"/><path transform="translate(441,241)" d="M2.00,-13.70 L2.00,-1.00"/><path transform="translate(441,241)" d="M1.00,-10.00 L5.00,-10.00"/><path transform="translate(450,241)" d="M1.00,-11.80 L2.50,-14.00 L4.50,-14.00 L6.00,-12.50 L6.00,-8.50 L3.50,-6.50 L3.50,-3.80"/><path transform="translate(450,241)" d="M3.50,-1.20 L3.50,-0.80"/></g>
<g stroke-width="2" stroke-linecap="square" stroke-linejoin="miter"><path transform="translate(419,371)" d="M1.00,-10.00 L1.00,-1.00"/><path transform="translate(419,371)" d="M1.00,-10.00 L5.50,-10.00 L7.00,-8.50 L7.00,-1.00"/><path transform="translate(430,371)" d="M1.00,-5.00 L7.00,-5.00 L7.00,-8.50 L5.50,-10.00 L2.50,-10.00 L1.00,-8.50 L1.00,-2.50 L2.50,-1.00 L7.00,-1.00"/><path transform="translate(441,371)" d="M7.00,-14.00 L7.00,-1.00 L2.50,-1.00 L1.00,-2.50 L1.00,-8.50 L2.50,-10.00 L7.00,-10.00"/><path transform="translate(452,371)" d="M7.00,-10.00 L2.50,-10.00 L1.00,-8.50 L1.00,-7.00 L2.00,-6.00 L6.00,-4.00 L7.00,-3.00 L7.00,-2.50 L5.50,-1.00 L1.00,-1.00"/><path transform="translate(462,371)" d="M3.00,-10.00 L3.00,2.50 L1.50,4.00 L0.50,4.00"/><path transform="translate(462,371)" d="M3.00,-14.00 L3.00,-13.60"/><path transform="translate(469,371)" d="M1.00,-10.00 L1.00,-2.50 L2.50,-1.00 L7.00,-1.00"/><path transform="translate(469,371)" d="M7.00,-10.00 L7.00,-1.00"/><path transform="translate(480,371)" d="M1.00,-10.00 L1.00,-1.00"/><path transform="translate(480,371)" d="M1.00,-10.00 L5.50,-10.00 L7.00,-8.50 L7.00,-1.00"/><path transform="translate(491,371)" d="M1.00,-14.00 L1.00,-1.00"/><path transform="translate(491,371)" d="M7.00,-10.00 L1.50,-4.30"/><path transform="translate(491,371)" d="M3.60,-6.00 L7.00,-1.00"/><path transform="translate(502,371)" d="M1.00,-5.00 L7.00,-5.00 L7.00,-8.50 L5.50,-10.00 L2.50,-10.00 L1.00,-8.50 L1.00,-2.50 L2.50,-1.00 L7.00,-1.00"/><path transform="translate(513,371)" d="M1.00,-10.00 L1.00,-1.00"/><path transform="translate(513,371)" d="M1.00,-10.00 L5.50,-10.00 L7.00,-8.50 L7.00,-1.00"/></g>
<g stroke-width="2" stroke-linecap="square" stroke-linejoin="miter"><path transform="translate(534,371)" d="M1.00,-10.00 L1.00,-1.00"/><path transform="translate(534,371)" d="M1.00,-10.00 L8.50,-10.00 L10.00,-8.50 L10.00,-1.00"/><path transform="translate(534,371)" d="M6.00,-10.00 L6.00,-1.00"/><path transform="translate(548,371)" d="M1.00,-10.00 L5.50,-10.00 L7.00,-8.50 L7.00,-1.00"/><path transform="translate(548,371)" d="M7.00,-5.00 L2.00,-5.00 L1.00,-4.00 L1.00,-2.00 L2.00,-1.00 L7.00,-1.00"/><path transform="translate(558,371)" d="M1.00,-10.00 L1.00,-1.00"/><path transform="translate(558,371)" d="M1.00,-10.00 L5.20,-10.00 L6.00,-9.10"/><path transform="translate(569,371)" d="M1.00,-14.00 L1.00,-1.00"/><path transform="translate(569,371)" d="M7.00,-10.00 L1.50,-4.30"/><path transform="translate(569,371)" d="M3.60,-6.00 L7.00,-1.00"/></g>
</g>
</svg>
</body></html>
